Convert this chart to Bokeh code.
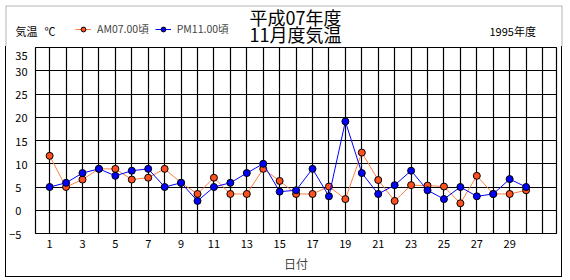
from bokeh.plotting import figure
from bokeh.layouts import column
from bokeh.models import (Range1d, FixedTicker, Label, Legend, LegendItem,
                          PolyAnnotation)
from bokeh.embed import file_html
from bokeh.resources import INLINE

# ---- data ----
days = list(range(1, 31))
am07 = [11.7, 5.0, 6.6, 8.9, 8.9, 6.6, 7.0, 8.9, 5.9, 3.5,
        7.0, 3.5, 3.5, 8.9, 6.3, 3.5, 3.5, 5.1, 2.4, 12.4,
        6.5, 2.0, 5.4, 5.3, 5.1, 1.5, 7.4, 3.5, 3.5, 4.3]
pm11 = [5.0, 5.9, 8.0, 8.9, 7.4, 8.5, 8.9, 5.0, 5.9, 2.0,
        5.0, 5.9, 8.0, 10.0, 4.0, 4.3, 8.9, 3.0, 19.1, 8.0,
        3.5, 5.4, 8.5, 4.3, 2.4, 5.0, 3.0, 3.5, 6.7, 5.0]
x_ticks = list(range(1, 30, 2))
y_ticks = [-5, 0, 5, 10, 15, 20, 25, 30, 35]
series_names = ["AM07.00頃", "PM11.00頃"]
title_lines = ["平成07年度", "11月度気温"]
unit_text = ["気温", "℃"]
year_text = "1995年度"
x_label = "日付"

FONT = "Noto Sans CJK JP"
AM_LINE, AM_FILL = "#FF8040", "#FF5020"
PM_LINE, PM_FILL = "#0000FF", "#0000FF"
NAN = float("nan")

PAGE_W = 570
HEAD_H = 46              # header canvas: page y 0..46
BL, BR, BT = 5, 561, 5   # outer border lines (page px)
MAIN_W = BR - BL - 1     # main canvas inside left/right borders
MAIN_H = 276 - HEAD_H    # main canvas: page y 46..276, border at 276
FL, FR, FT, FB = 35, 554, 47, 232   # chart frame on the page

# ---------- header (titles, legend, top part of the border) ----------
hd = figure(width=PAGE_W, height=HEAD_H, output_backend="svg", toolbar_location=None,
            x_range=Range1d(0, PAGE_W), y_range=Range1d(HEAD_H, 0),
            min_border=0, background_fill_color="white", border_fill_color="white")
hd.frame_align = False
hd.axis.visible = False
hd.grid.visible = False
hd.outline_line_color = None

hd.add_layout(PolyAnnotation(xs=[BL + 0.5, BL + 0.5, BR + 0.5, BR + 0.5],
                             ys=[HEAD_H + 20, BT + 0.5, BT + 0.5, HEAD_H + 20],
                             fill_alpha=0, line_color="black", line_width=1))

def add_label(text, px, py, size, align="left"):
    hd.add_layout(Label(x=px, y=py, text=text, text_font=FONT,
                        text_font_size=size, text_align=align,
                        text_baseline="middle", text_color="black"))

add_label(title_lines[0], 295, 16, "18px", "center")
add_label(title_lines[1], 295, 33, "18px", "center")
add_label(unit_text[0], 15, 30, "11px")
add_label(unit_text[1], 44, 30, "11px")
add_label(year_text, 489, 30, "11px")

# legend proxies (a single NaN point, never visible) carrying the series styles
am_l = hd.line([NAN], [NAN], line_color=AM_LINE, line_width=1)
am_s = hd.scatter([NAN], [NAN], size=7, fill_color=AM_FILL, line_color="black")
pm_l = hd.line([NAN], [NAN], line_color=PM_LINE, line_width=1)
pm_s = hd.scatter([NAN], [NAN], size=7, fill_color=PM_FILL, line_color="black")
legend = Legend(items=[LegendItem(label=series_names[0], renderers=[am_l, am_s]),
                       LegendItem(label=series_names[1], renderers=[pm_l, pm_s])],
                location=(75, 10), orientation="horizontal",
                padding=0, margin=0, spacing=6, glyph_width=16, glyph_height=12,
                label_standoff=6, border_line_color=None,
                background_fill_alpha=0, label_text_font=FONT,
                label_text_font_size="10.5px", label_height=12)
hd.add_layout(legend, "center")

# ---------- main chart ----------
X0, X1 = 0.14, 31.85
Y0, Y1 = -5, 35
p = figure(width=MAIN_W, height=MAIN_H, output_backend="svg", toolbar_location=None,
           x_range=Range1d(X0, X1), y_range=Range1d(Y0, Y1),
           min_border_left=FL - (BL + 1), min_border_right=BR - FR,
           min_border_top=FT - HEAD_H, min_border_bottom=276 - FB,
           background_fill_color="white", border_fill_color="white",
           styles={"margin-left": f"{BL}px", "box-sizing": "content-box",
                   "border-left": "1px solid black", "border-right": "1px solid black",
                   "border-bottom": "1px solid black"})
p.frame_align = False
p.outline_line_color = "black"
p.outline_line_width = 1.2

p.xgrid.ticker = FixedTicker(ticks=list(range(1, 32)))
p.ygrid.ticker = FixedTicker(ticks=y_ticks)
for g in (p.xgrid, p.ygrid):
    g.grid_line_color = "black"
    g.grid_line_width = 1.2

p.xaxis.ticker = FixedTicker(ticks=x_ticks)
p.yaxis.ticker = FixedTicker(ticks=y_ticks)
p.yaxis.major_label_overrides = {t: (str(t) if abs(t) >= 10 else str(t) + "\u2007").replace("-", "−")
                                 for t in y_ticks}
for ax in (p.xaxis, p.yaxis):
    ax.axis_line_color = None
    ax.major_tick_out = 0
    ax.major_tick_in = 0
    ax.minor_tick_out = 0
    ax.minor_tick_in = 0
    ax.major_label_text_font = FONT
    ax.major_label_text_font_size = "11px"
    ax.major_label_text_color = "black"
p.xaxis.major_label_standoff = 6
p.yaxis.major_label_standoff = 8
p.xaxis.axis_label = x_label
p.xaxis.axis_label_text_font = FONT
p.xaxis.axis_label_text_font_size = "12px"
p.xaxis.axis_label_text_font_style = "normal"
p.xaxis.axis_label_standoff = 4

p.line(days, am07, line_color=AM_LINE, line_width=1)
p.scatter(days, am07, size=7, fill_color=AM_FILL, line_color="black", line_width=1)
p.line(days, pm11, line_color=PM_LINE, line_width=1)
p.scatter(days, pm11, size=7, fill_color=PM_FILL, line_color="black", line_width=1)

page = column(hd, p, spacing=0, styles={"background": "white"})

open("out.html", "w").write(file_html(page, INLINE))
